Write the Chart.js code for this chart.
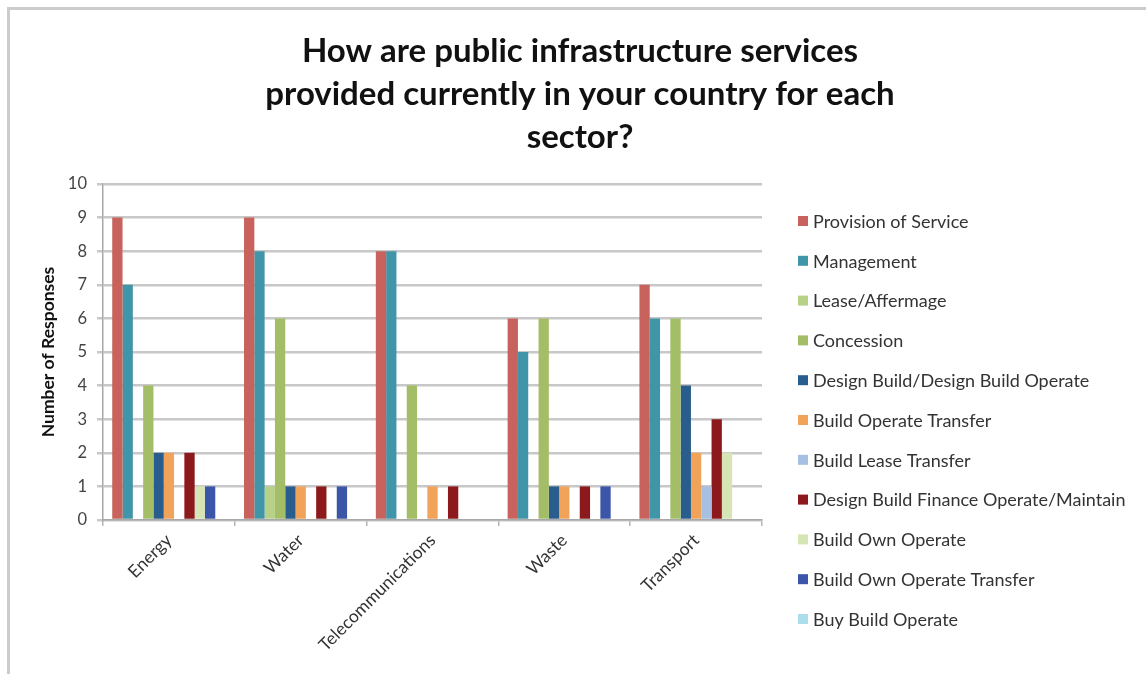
<!DOCTYPE html>
<html>
<head>
<meta charset="utf-8">
<title>Infrastructure services by sector</title>
<script src="https://cdn.jsdelivr.net/npm/chart.js@4"></script>
<style>
  html, body { margin: 0; padding: 0; background: #fff; }
  #wrap { position: relative; width: 1146px; height: 674px; overflow: hidden; }
  #frame {
    position: absolute; left: 7px; top: 7px; right: 0; bottom: 0;
    border-left: 3px solid #cccccc; border-top: 3px solid #cccccc;
    pointer-events: none;
  }
  canvas { position: absolute; left: 0; top: 0; }
</style>
</head>
<body>
<div id="wrap">
  <canvas id="chart" width="1146" height="674"></canvas>
  <div id="frame"></div>
</div>
<script>
const sectors = ["Energy", "Water", "Telecommunications", "Waste", "Transport"];

const titleLines = [
  "How are public infrastructure services",
  "provided currently in your country for each",
  "sector?",
];

const yTitle = "Number of Responses";

const provisionOfService = [9, 9, 8, 6, 7];
const management = [7, 8, 8, 5, 6];
const leaseAffermage = [0, 1, 0, 0, 0];
const concession = [4, 6, 4, 6, 6];
const designBuild = [2, 1, 0, 1, 4];
const buildOperateTransfer = [2, 1, 1, 1, 2];
const buildLeaseTransfer = [0, 0, 0, 0, 1];
const dbfoMaintain = [2, 1, 1, 1, 3];
const buildOwnOperate = [1, 0, 0, 0, 2];
const buildOwnOperateTransfer = [1, 1, 0, 1, 0];
const buyBuildOperate = [0, 0, 0, 0, 0];

const FONT = "Lato, 'Open Sans', sans-serif";

function series(label, data, color) {
  return {
    label,
    data,
    backgroundColor: color,
    borderWidth: 0,
    categoryPercentage: 0.86,
    barPercentage: 1.0,
  };
}

const datasets = [
  series("Provision of Service", provisionOfService, "#c7625c"),
  series("Management", management, "#4195a8"),
  series("Lease/Affermage", leaseAffermage, "#b7d189"),
  series("Concession", concession, "#a4be68"),
  series("Design Build/Design Build Operate", designBuild, "#285d8d"),
  series("Build Operate Transfer", buildOperateTransfer, "#f2a35a"),
  series("Build Lease Transfer", buildLeaseTransfer, "#a7bfe0"),
  series("Design Build Finance Operate/Maintain", dbfoMaintain, "#8c1a1d"),
  series("Build Own Operate", buildOwnOperate, "#d5e5b5"),
  series("Build Own Operate Transfer", buildOwnOperateTransfer, "#3b55a8"),
  series("Buy Build Operate", buyBuildOperate, "#abddea"),
];

// title and legend are painted by hand so they sit where the layout needs them
const decorations = {
  id: "decorations",
  afterDraw(chart) {
    const ctx = chart.ctx;
    ctx.save();
    ctx.fillStyle = "#111";
    ctx.font = `bold 33px ${FONT}`;
    ctx.textAlign = "center";
    ctx.textBaseline = "middle";
    titleLines.forEach((line, i) => {
      ctx.fillText(line, 580, 51 + i * 43);
    });

    ctx.font = `18px ${FONT}`;
    ctx.textAlign = "left";
    chart.data.datasets.forEach((ds, i) => {
      const y = 222 + i * 39.8;
      ctx.fillStyle = ds.backgroundColor;
      ctx.fillRect(798, y - 6, 10, 10);
      ctx.fillStyle = "#333";
      ctx.fillText(ds.label, 813, y);
    });
    ctx.restore();
  },
};

new Chart(document.getElementById("chart").getContext("2d"), {
  type: "bar",
  data: { labels: sectors, datasets },
  options: {
    responsive: false,
    animation: false,
    layout: { padding: { top: 184, left: 0, right: 384, bottom: 0 } },
    plugins: {
      legend: { display: false },
      title: { display: false },
      tooltip: { enabled: false },
    },
    scales: {
      x: {
        afterFit(scale) { scale.height = 154; },
        grid: {
          offset: true,
          drawOnChartArea: false,
          drawTicks: true,
          tickLength: 6,
          color: "#b5b5b5",
          lineWidth: 1.5,
        },
        border: { display: true, color: "#a8a8a8", width: 1.5 },
        ticks: {
          minRotation: 45,
          maxRotation: 45,
          padding: 4,
          color: "#333",
          font: { family: FONT, size: 17.5 },
        },
      },
      y: {
        min: 0,
        max: 10,
        afterFit(scale) { scale.width = 103; },
        grid: {
          color: "#c8c8c8",
          lineWidth: 2.5,
          drawTicks: true,
          tickLength: 6,
        },
        border: { display: true, color: "#a8a8a8", width: 1.5 },
        ticks: {
          stepSize: 1,
          padding: 10,
          color: "#444",
          font: { family: FONT, size: 16.5 },
        },
        title: {
          display: true,
          text: yTitle,
          color: "#111",
          font: { family: FONT, size: 17.5, weight: "bold" },
          padding: { top: 38, bottom: 0 },
        },
      },
    },
  },
  plugins: [decorations],
});
</script>
</body>
</html>
